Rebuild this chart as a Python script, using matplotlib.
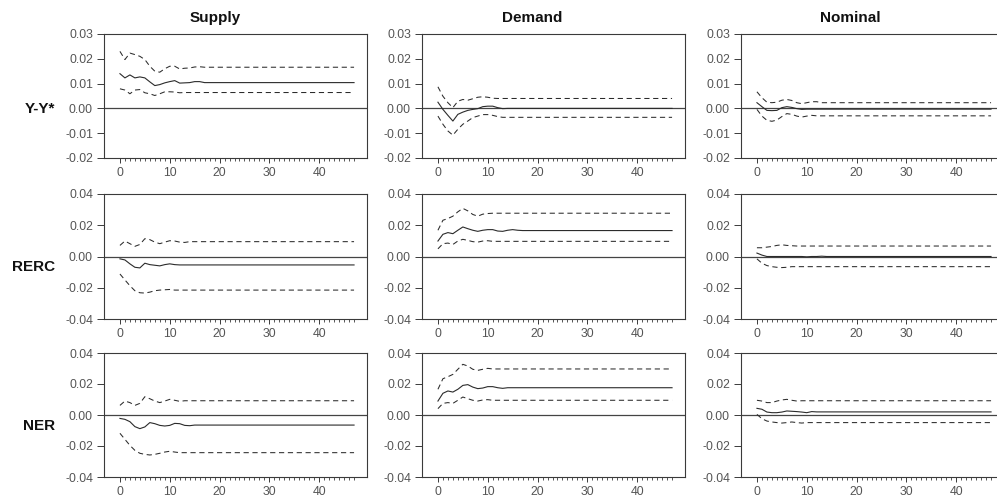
import matplotlib
matplotlib.use("Agg")
import matplotlib.pyplot as plt
from matplotlib.ticker import FixedLocator, FormatStrFormatter

plt.rcParams['font.family'] = ['Liberation Sans', 'DejaVu Sans']

# ---------------- data ----------------
horizon = list(range(48))
shock_titles = ["Supply", "Demand", "Nominal"]
row_labels = ["Y-Y*", "RERC", "NER"]
xticks = [0, 10, 20, 30, 40]
yticks_row1 = [-0.02, -0.01, 0.00, 0.01, 0.02, 0.03]
yticks_row23 = [-0.04, -0.02, 0.00, 0.02, 0.04]

# Y-Y* responses
sup_yy = [0.0140, 0.0123, 0.0135, 0.0123, 0.0127, 0.0123, 0.0107, 0.0092, 0.0096, 0.0103, 0.0108, 0.0112,
          0.0102, 0.0103, 0.0104, 0.0108, 0.0108, 0.0104, 0.0104, 0.0104, 0.0104, 0.0104, 0.0104, 0.0104,
          0.0104, 0.0104, 0.0104, 0.0104, 0.0104, 0.0104, 0.0104, 0.0104, 0.0104, 0.0104, 0.0104, 0.0104,
          0.0104, 0.0104, 0.0104, 0.0104, 0.0104, 0.0104, 0.0104, 0.0104, 0.0104, 0.0104, 0.0104, 0.0104]
sup_yy_hi = [0.0230, 0.0197, 0.0223, 0.0217, 0.0210, 0.0197, 0.0170, 0.0150, 0.0146, 0.0160, 0.0170, 0.0170,
             0.0159, 0.0162, 0.0163, 0.0167, 0.0168, 0.0166, 0.0166, 0.0166, 0.0166, 0.0166, 0.0166, 0.0166,
             0.0166, 0.0166, 0.0166, 0.0166, 0.0166, 0.0166, 0.0166, 0.0166, 0.0166, 0.0166, 0.0166, 0.0166,
             0.0166, 0.0166, 0.0166, 0.0166, 0.0166, 0.0166, 0.0166, 0.0166, 0.0166, 0.0166, 0.0166, 0.0166]
sup_yy_lo = [0.0079, 0.0074, 0.0059, 0.0074, 0.0076, 0.0063, 0.0059, 0.0052, 0.0059, 0.0067, 0.0067, 0.0066,
             0.0063, 0.0064, 0.0064, 0.0064, 0.0064, 0.0064, 0.0064, 0.0064, 0.0064, 0.0064, 0.0064, 0.0064,
             0.0064, 0.0064, 0.0064, 0.0064, 0.0064, 0.0064, 0.0064, 0.0064, 0.0064, 0.0064, 0.0064, 0.0064,
             0.0064, 0.0064, 0.0064, 0.0064, 0.0064, 0.0064, 0.0064, 0.0064, 0.0064, 0.0064, 0.0064, 0.0064]

dem_yy = [0.0025, -0.0004, -0.0028, -0.0051, -0.0024, -0.0015, -0.0008, -0.0004, -0.0001, 0.0007, 0.0009, 0.0009,
          0.0003, -0.0001, 0.0000, 0.0000, 0.0000, 0.0000, 0.0000, 0.0000, 0.0000, 0.0000, 0.0000, 0.0000,
          0.0000, 0.0000, 0.0000, 0.0000, 0.0000, 0.0000, 0.0000, 0.0000, 0.0000, 0.0000, 0.0000, 0.0000,
          0.0000, 0.0000, 0.0000, 0.0000, 0.0000, 0.0000, 0.0000, 0.0000, 0.0000, 0.0000, 0.0000, 0.0000]
dem_yy_hi = [0.0087, 0.0049, 0.0023, 0.0003, 0.0029, 0.0036, 0.0033, 0.0039, 0.0045, 0.0047, 0.0045, 0.0041,
             0.0040, 0.0040, 0.0040, 0.0040, 0.0040, 0.0040, 0.0040, 0.0040, 0.0040, 0.0040, 0.0040, 0.0040,
             0.0040, 0.0040, 0.0040, 0.0040, 0.0040, 0.0040, 0.0040, 0.0040, 0.0040, 0.0040, 0.0040, 0.0040,
             0.0040, 0.0040, 0.0040, 0.0040, 0.0040, 0.0040, 0.0040, 0.0040, 0.0040, 0.0040, 0.0040, 0.0040]
dem_yy_lo = [-0.0031, -0.0064, -0.0091, -0.0108, -0.0084, -0.0064, -0.0051, -0.0037, -0.0031, -0.0025, -0.0025, -0.0028,
             -0.0033, -0.0036, -0.0036, -0.0036, -0.0036, -0.0036, -0.0036, -0.0036, -0.0036, -0.0036, -0.0036, -0.0036,
             -0.0036, -0.0036, -0.0036, -0.0036, -0.0036, -0.0036, -0.0036, -0.0036, -0.0036, -0.0036, -0.0036, -0.0036,
             -0.0036, -0.0036, -0.0036, -0.0036, -0.0036, -0.0036, -0.0036, -0.0036, -0.0036, -0.0036, -0.0036, -0.0036]

nom_yy = [0.0023, 0.0007, -0.0008, -0.0009, -0.0008, 0.0003, 0.0007, 0.0004, -0.0001, -0.0004, -0.0003, -0.0003,
          -0.0003, -0.0003, -0.0003, -0.0003, -0.0003, -0.0003, -0.0003, -0.0003, -0.0003, -0.0003, -0.0003, -0.0003,
          -0.0003, -0.0003, -0.0003, -0.0003, -0.0003, -0.0003, -0.0003, -0.0003, -0.0003, -0.0003, -0.0003, -0.0003,
          -0.0003, -0.0003, -0.0003, -0.0003, -0.0003, -0.0003, -0.0003, -0.0003, -0.0003, -0.0003, -0.0003, -0.0003]
nom_yy_hi = [0.0067, 0.0043, 0.0025, 0.0023, 0.0025, 0.0033, 0.0036, 0.0032, 0.0023, 0.0019, 0.0023, 0.0027,
             0.0027, 0.0023, 0.0023, 0.0023, 0.0023, 0.0023, 0.0023, 0.0023, 0.0023, 0.0023, 0.0023, 0.0023,
             0.0023, 0.0023, 0.0023, 0.0023, 0.0023, 0.0023, 0.0023, 0.0023, 0.0023, 0.0023, 0.0023, 0.0023,
             0.0023, 0.0023, 0.0023, 0.0023, 0.0023, 0.0023, 0.0023, 0.0023, 0.0023, 0.0023, 0.0023, 0.0023]
nom_yy_lo = [-0.0004, -0.0031, -0.0048, -0.0052, -0.0047, -0.0033, -0.0021, -0.0024, -0.0031, -0.0035, -0.0031, -0.0028,
             -0.0030, -0.0030, -0.0030, -0.0030, -0.0030, -0.0030, -0.0030, -0.0030, -0.0030, -0.0030, -0.0030, -0.0030,
             -0.0030, -0.0030, -0.0030, -0.0030, -0.0030, -0.0030, -0.0030, -0.0030, -0.0030, -0.0030, -0.0030, -0.0030,
             -0.0030, -0.0030, -0.0030, -0.0030, -0.0030, -0.0030, -0.0030, -0.0030, -0.0030, -0.0030, -0.0030, -0.0030]

# RERC responses
sup_rerc = [-0.0015, -0.0022, -0.0047, -0.0069, -0.0073, -0.0043, -0.0052, -0.0056, -0.0060, -0.0052, -0.0047, -0.0052,
            -0.0054, -0.0054, -0.0054, -0.0054, -0.0054, -0.0054, -0.0054, -0.0054, -0.0054, -0.0054, -0.0054, -0.0054,
            -0.0054, -0.0054, -0.0054, -0.0054, -0.0054, -0.0054, -0.0054, -0.0054, -0.0054, -0.0054, -0.0054, -0.0054,
            -0.0054, -0.0054, -0.0054, -0.0054, -0.0054, -0.0054, -0.0054, -0.0054, -0.0054, -0.0054, -0.0054, -0.0054]
sup_rerc_hi = [0.0071, 0.0099, 0.0082, 0.0065, 0.0077, 0.0114, 0.0108, 0.0092, 0.0082, 0.0092, 0.0101, 0.0099,
               0.0092, 0.0090, 0.0095, 0.0095, 0.0095, 0.0095, 0.0095, 0.0095, 0.0095, 0.0095, 0.0095, 0.0095,
               0.0095, 0.0095, 0.0095, 0.0095, 0.0095, 0.0095, 0.0095, 0.0095, 0.0095, 0.0095, 0.0095, 0.0095,
               0.0095, 0.0095, 0.0095, 0.0095, 0.0095, 0.0095, 0.0095, 0.0095, 0.0095, 0.0095, 0.0095, 0.0095]
sup_rerc_lo = [-0.0112, -0.0150, -0.0187, -0.0219, -0.0232, -0.0234, -0.0228, -0.0219, -0.0215, -0.0213, -0.0211, -0.0215,
               -0.0215, -0.0215, -0.0215, -0.0215, -0.0215, -0.0215, -0.0215, -0.0215, -0.0215, -0.0215, -0.0215, -0.0215,
               -0.0215, -0.0215, -0.0215, -0.0215, -0.0215, -0.0215, -0.0215, -0.0215, -0.0215, -0.0215, -0.0215, -0.0215,
               -0.0215, -0.0215, -0.0215, -0.0215, -0.0215, -0.0215, -0.0215, -0.0215, -0.0215, -0.0215, -0.0215, -0.0215]

dem_rerc = [0.0099, 0.0142, 0.0153, 0.0146, 0.0168, 0.0189, 0.0178, 0.0168, 0.0161, 0.0168, 0.0172, 0.0172,
            0.0163, 0.0161, 0.0168, 0.0172, 0.0168, 0.0166, 0.0166, 0.0166, 0.0166, 0.0166, 0.0166, 0.0166,
            0.0166, 0.0166, 0.0166, 0.0166, 0.0166, 0.0166, 0.0166, 0.0166, 0.0166, 0.0166, 0.0166, 0.0166,
            0.0166, 0.0166, 0.0166, 0.0166, 0.0166, 0.0166, 0.0166, 0.0166, 0.0166, 0.0166, 0.0166, 0.0166]
dem_rerc_hi = [0.0168, 0.0232, 0.0243, 0.0258, 0.0286, 0.0308, 0.0292, 0.0269, 0.0258, 0.0271, 0.0275, 0.0277,
               0.0277, 0.0277, 0.0277, 0.0277, 0.0277, 0.0277, 0.0277, 0.0277, 0.0277, 0.0277, 0.0277, 0.0277,
               0.0277, 0.0277, 0.0277, 0.0277, 0.0277, 0.0277, 0.0277, 0.0277, 0.0277, 0.0277, 0.0277, 0.0277,
               0.0277, 0.0277, 0.0277, 0.0277, 0.0277, 0.0277, 0.0277, 0.0277, 0.0277, 0.0277, 0.0277, 0.0277]
dem_rerc_lo = [0.0049, 0.0082, 0.0086, 0.0077, 0.0099, 0.0110, 0.0103, 0.0095, 0.0092, 0.0099, 0.0101, 0.0097,
               0.0097, 0.0097, 0.0097, 0.0097, 0.0097, 0.0097, 0.0097, 0.0097, 0.0097, 0.0097, 0.0097, 0.0097,
               0.0097, 0.0097, 0.0097, 0.0097, 0.0097, 0.0097, 0.0097, 0.0097, 0.0097, 0.0097, 0.0097, 0.0097,
               0.0097, 0.0097, 0.0097, 0.0097, 0.0097, 0.0097, 0.0097, 0.0097, 0.0097, 0.0097, 0.0097, 0.0097]

nom_rerc = [0.0022, 0.0009, 0.0000, 0.0000, 0.0000, 0.0000, 0.0000, 0.0000, 0.0000, 0.0000, -0.0002, 0.0000,
            0.0000, 0.0002, 0.0000, 0.0000, 0.0000, 0.0000, 0.0000, 0.0000, 0.0000, 0.0000, 0.0000, 0.0000,
            0.0000, 0.0000, 0.0000, 0.0000, 0.0000, 0.0000, 0.0000, 0.0000, 0.0000, 0.0000, 0.0000, 0.0000,
            0.0000, 0.0000, 0.0000, 0.0000, 0.0000, 0.0000, 0.0000, 0.0000, 0.0000, 0.0000, 0.0000, 0.0000]
nom_rerc_hi = [0.0056, 0.0056, 0.0060, 0.0064, 0.0071, 0.0075, 0.0071, 0.0069, 0.0067, 0.0067, 0.0067, 0.0067,
               0.0067, 0.0067, 0.0067, 0.0067, 0.0067, 0.0067, 0.0067, 0.0067, 0.0067, 0.0067, 0.0067, 0.0067,
               0.0067, 0.0067, 0.0067, 0.0067, 0.0067, 0.0067, 0.0067, 0.0067, 0.0067, 0.0067, 0.0067, 0.0067,
               0.0067, 0.0067, 0.0067, 0.0067, 0.0067, 0.0067, 0.0067, 0.0067, 0.0067, 0.0067, 0.0067, 0.0067]
nom_rerc_lo = [-0.0015, -0.0043, -0.0058, -0.0065, -0.0069, -0.0071, -0.0069, -0.0065, -0.0065, -0.0065, -0.0065, -0.0065,
               -0.0065, -0.0065, -0.0065, -0.0065, -0.0065, -0.0065, -0.0065, -0.0065, -0.0065, -0.0065, -0.0065, -0.0065,
               -0.0065, -0.0065, -0.0065, -0.0065, -0.0065, -0.0065, -0.0065, -0.0065, -0.0065, -0.0065, -0.0065, -0.0065,
               -0.0065, -0.0065, -0.0065, -0.0065, -0.0065, -0.0065, -0.0065, -0.0065, -0.0065, -0.0065, -0.0065, -0.0065]

# NER responses
sup_ner = [-0.0022, -0.0028, -0.0043, -0.0075, -0.0088, -0.0077, -0.0049, -0.0056, -0.0067, -0.0071, -0.0067, -0.0054,
           -0.0056, -0.0067, -0.0069, -0.0065, -0.0065, -0.0065, -0.0065, -0.0065, -0.0065, -0.0065, -0.0065, -0.0065,
           -0.0065, -0.0065, -0.0065, -0.0065, -0.0065, -0.0065, -0.0065, -0.0065, -0.0065, -0.0065, -0.0065, -0.0065,
           -0.0065, -0.0065, -0.0065, -0.0065, -0.0065, -0.0065, -0.0065, -0.0065, -0.0065, -0.0065, -0.0065, -0.0065]
sup_ner_hi = [0.0062, 0.0090, 0.0080, 0.0062, 0.0075, 0.0118, 0.0105, 0.0090, 0.0080, 0.0090, 0.0101, 0.0095,
              0.0088, 0.0092, 0.0092, 0.0092, 0.0092, 0.0092, 0.0092, 0.0092, 0.0092, 0.0092, 0.0092, 0.0092,
              0.0092, 0.0092, 0.0092, 0.0092, 0.0092, 0.0092, 0.0092, 0.0092, 0.0092, 0.0092, 0.0092, 0.0092,
              0.0092, 0.0092, 0.0092, 0.0092, 0.0092, 0.0092, 0.0092, 0.0092, 0.0092, 0.0092, 0.0092, 0.0092]
sup_ner_lo = [-0.0118, -0.0157, -0.0196, -0.0228, -0.0247, -0.0254, -0.0258, -0.0254, -0.0247, -0.0239, -0.0234, -0.0239,
              -0.0243, -0.0243, -0.0243, -0.0243, -0.0243, -0.0243, -0.0243, -0.0243, -0.0243, -0.0243, -0.0243, -0.0243,
              -0.0243, -0.0243, -0.0243, -0.0243, -0.0243, -0.0243, -0.0243, -0.0243, -0.0243, -0.0243, -0.0243, -0.0243,
              -0.0243, -0.0243, -0.0243, -0.0243, -0.0243, -0.0243, -0.0243, -0.0243, -0.0243, -0.0243, -0.0243, -0.0243]

dem_ner = [0.0090, 0.0140, 0.0155, 0.0148, 0.0166, 0.0191, 0.0196, 0.0180, 0.0170, 0.0174, 0.0183, 0.0183,
           0.0176, 0.0172, 0.0176, 0.0176, 0.0176, 0.0176, 0.0176, 0.0176, 0.0176, 0.0176, 0.0176, 0.0176,
           0.0176, 0.0176, 0.0176, 0.0176, 0.0176, 0.0176, 0.0176, 0.0176, 0.0176, 0.0176, 0.0176, 0.0176,
           0.0176, 0.0176, 0.0176, 0.0176, 0.0176, 0.0176, 0.0176, 0.0176, 0.0176, 0.0176, 0.0176, 0.0176]
dem_ner_hi = [0.0166, 0.0234, 0.0247, 0.0262, 0.0295, 0.0327, 0.0316, 0.0295, 0.0288, 0.0295, 0.0301, 0.0297,
              0.0297, 0.0297, 0.0297, 0.0297, 0.0297, 0.0297, 0.0297, 0.0297, 0.0297, 0.0297, 0.0297, 0.0297,
              0.0297, 0.0297, 0.0297, 0.0297, 0.0297, 0.0297, 0.0297, 0.0297, 0.0297, 0.0297, 0.0297, 0.0297,
              0.0297, 0.0297, 0.0297, 0.0297, 0.0297, 0.0297, 0.0297, 0.0297, 0.0297, 0.0297, 0.0297, 0.0297]
dem_ner_lo = [0.0041, 0.0075, 0.0080, 0.0075, 0.0095, 0.0116, 0.0105, 0.0095, 0.0090, 0.0097, 0.0099, 0.0095,
              0.0095, 0.0095, 0.0095, 0.0095, 0.0095, 0.0095, 0.0095, 0.0095, 0.0095, 0.0095, 0.0095, 0.0095,
              0.0095, 0.0095, 0.0095, 0.0095, 0.0095, 0.0095, 0.0095, 0.0095, 0.0095, 0.0095, 0.0095, 0.0095,
              0.0095, 0.0095, 0.0095, 0.0095, 0.0095, 0.0095, 0.0095, 0.0095, 0.0095, 0.0095, 0.0095, 0.0095]

nom_ner = [0.0043, 0.0037, 0.0019, 0.0015, 0.0015, 0.0019, 0.0026, 0.0024, 0.0022, 0.0019, 0.0015, 0.0022,
           0.0020, 0.0020, 0.0020, 0.0020, 0.0020, 0.0020, 0.0020, 0.0020, 0.0020, 0.0020, 0.0020, 0.0020,
           0.0020, 0.0020, 0.0020, 0.0020, 0.0020, 0.0020, 0.0020, 0.0020, 0.0020, 0.0020, 0.0020, 0.0020,
           0.0020, 0.0020, 0.0020, 0.0020, 0.0020, 0.0020, 0.0020, 0.0020, 0.0020, 0.0020, 0.0020, 0.0020]
nom_ner_hi = [0.0095, 0.0090, 0.0080, 0.0080, 0.0090, 0.0097, 0.0101, 0.0095, 0.0090, 0.0092, 0.0092, 0.0092,
              0.0092, 0.0092, 0.0092, 0.0092, 0.0092, 0.0092, 0.0092, 0.0092, 0.0092, 0.0092, 0.0092, 0.0092,
              0.0092, 0.0092, 0.0092, 0.0092, 0.0092, 0.0092, 0.0092, 0.0092, 0.0092, 0.0092, 0.0092, 0.0092,
              0.0092, 0.0092, 0.0092, 0.0092, 0.0092, 0.0092, 0.0092, 0.0092, 0.0092, 0.0092, 0.0092, 0.0092]
nom_ner_lo = [0.0004, -0.0024, -0.0039, -0.0045, -0.0049, -0.0052, -0.0049, -0.0045, -0.0049, -0.0052, -0.0049, -0.0049,
              -0.0049, -0.0049, -0.0049, -0.0049, -0.0049, -0.0049, -0.0049, -0.0049, -0.0049, -0.0049, -0.0049, -0.0049,
              -0.0049, -0.0049, -0.0049, -0.0049, -0.0049, -0.0049, -0.0049, -0.0049, -0.0049, -0.0049, -0.0049, -0.0049,
              -0.0049, -0.0049, -0.0049, -0.0049, -0.0049, -0.0049, -0.0049, -0.0049, -0.0049, -0.0049, -0.0049, -0.0049]

panels = [
    [(sup_yy, sup_yy_lo, sup_yy_hi), (dem_yy, dem_yy_lo, dem_yy_hi), (nom_yy, nom_yy_lo, nom_yy_hi)],
    [(sup_rerc, sup_rerc_lo, sup_rerc_hi), (dem_rerc, dem_rerc_lo, dem_rerc_hi), (nom_rerc, nom_rerc_lo, nom_rerc_hi)],
    [(sup_ner, sup_ner_lo, sup_ner_hi), (dem_ner, dem_ner_lo, dem_ner_hi), (nom_ner, nom_ner_lo, nom_ner_hi)],
]

# ---------------- layout ----------------
W, H = 997, 496
fig = plt.figure(figsize=(W / 100, H / 100), dpi=100)

col_left_px = [104, 422, 741]
row_top_px = [34, 194, 353]
row_bot_px = [158, 319, 477]
ax_w_px = 263

line_col = '#2b2b2b'
spine_col = '#3a3a3a'
tick_col = '#555555'

for r in range(3):
    for c in range(3):
        left = col_left_px[c] / W
        bottom = 1 - row_bot_px[r] / H
        height = (row_bot_px[r] - row_top_px[r]) / H
        ax = fig.add_axes([left, bottom, ax_w_px / W, height])
        mid, lo, hi = panels[r][c]
        ax.axhline(0, color='#444444', lw=0.9, zorder=1)
        ax.plot(horizon, hi, color=line_col, lw=0.75, ls=(0, (5, 3.5)), zorder=2)
        ax.plot(horizon, lo, color=line_col, lw=0.75, ls=(0, (5, 3.5)), zorder=2)
        ax.plot(horizon, mid, color=line_col, lw=0.8, zorder=3)
        ax.set_xlim(-3.2, 49.6)
        if r == 0:
            ax.set_ylim(-0.02, 0.03)
            ax.yaxis.set_major_locator(FixedLocator(yticks_row1))
        else:
            ax.set_ylim(-0.04, 0.04)
            ax.yaxis.set_major_locator(FixedLocator(yticks_row23))
        ax.yaxis.set_major_formatter(FormatStrFormatter('%.2f'))
        ax.xaxis.set_major_locator(FixedLocator(xticks))
        ax.xaxis.set_minor_locator(FixedLocator(horizon))
        for s in ax.spines.values():
            s.set_color(spine_col)
            s.set_linewidth(0.8)
        ax.tick_params(axis='y', which='major', length=5, width=0.7, color=spine_col,
                       labelsize=8.8, labelcolor=tick_col, pad=3)
        ax.tick_params(axis='x', which='major', length=3.8, width=0.7, color=spine_col,
                       labelsize=8.8, labelcolor=tick_col, pad=2.5)
        ax.tick_params(axis='x', which='minor', length=2, width=0.6, color=spine_col)

title_x_px = [215, 532, 850]
for c in range(3):
    fig.text(title_x_px[c] / W, 1 - 18 / H, shock_titles[c], ha='center', va='center',
             fontsize=11, fontweight='bold', color='#111111')

row_label_y_px = [109, 267, 426]
for r in range(3):
    fig.text(55 / W, 1 - row_label_y_px[r] / H, row_labels[r], ha='right', va='center',
             fontsize=11, fontweight='bold', color='#111111')

fig.savefig('out.png', dpi=100)
